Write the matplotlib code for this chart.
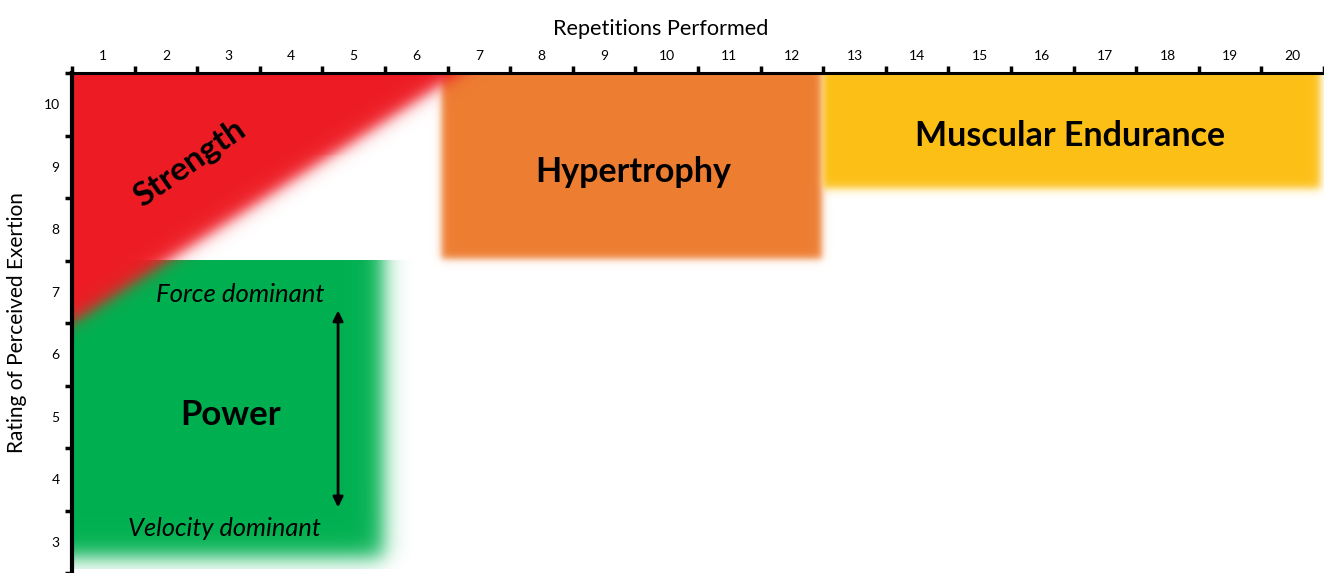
import numpy as np
import matplotlib
matplotlib.use("Agg")
import matplotlib.pyplot as plt

plt.rcParams['font.family'] = ['Lato', 'DejaVu Sans']

# axis data
reps = list(range(1, 21))
rpe = list(range(3, 11))
x_range = [0.5, 20.5]
y_range = [2.56, 10.5]

# zones (repetitions from-to, RPE from-to)
power_x = [0.5, 5.47]
power_y = [2.74, 7.5]
hyper_x = [6.4, 12.48]
hyper_y = [7.52, 10.6]
endur_x = [12.5, 20.45]
endur_y = [8.64, 10.6]
# strength triangle: diagonal from (0.5, 6.5) to (6.7, 10.5)
strength_diag = [(0.5, 6.5), (6.7, 10.5)]

zone_colors = {
    "Power": (0 / 255, 176 / 255, 80 / 255),
    "Hypertrophy": (237 / 255, 125 / 255, 49 / 255),
    "Muscular Endurance": (252 / 255, 191 / 255, 22 / 255),
    "Strength": (237 / 255, 28 / 255, 36 / 255),
}


def soft(d, s):
    # smooth step, 0 -> 1 as d goes - -> +
    if s <= 0:
        return (d > 0).astype(float)
    return 1.0 / (1.0 + np.exp(np.clip(-d / s, -50, 50)))


fig = plt.figure(figsize=(13.24, 5.73), dpi=100)
ax = fig.add_axes([72 / 1324, 0.0, 1 - 72 / 1324, 1 - 73 / 573])
ax.set_xlim(x_range)
ax.set_ylim(y_range)

nx, ny = 1252, 500
xs = np.linspace(x_range[0], x_range[1], nx)
ys = np.linspace(y_range[1], y_range[0], ny)
X, Y = np.meshgrid(xs, ys)

img = np.ones((ny, nx, 3))


def paint(alpha, color):
    global img
    alpha = np.where(alpha < 0.004, 0.0, alpha)
    a = alpha[..., None]
    img = img * (1 - a) + np.array(color) * a


# power: sharp top/left, soft right/bottom
a_power = soft(power_x[1] - X, 0.1) * soft(Y - power_y[0], 0.1) * soft(power_y[1] - Y, 0.0)
paint(a_power, zone_colors["Power"])

a_hyper = (soft(X - hyper_x[0], 0.035) * soft(hyper_x[1] - X, 0.035)
           * soft(Y - hyper_y[0], 0.035) * soft(hyper_y[1] - Y, 0.035))
paint(a_hyper, zone_colors["Hypertrophy"])

a_endur = (soft(X - endur_x[0], 0.03) * soft(endur_x[1] - X, 0.04)
           * soft(Y - endur_y[0], 0.04) * soft(endur_y[1] - Y, 0.04))
paint(a_endur, zone_colors["Muscular Endurance"])

(x0, y0), (x1, y1) = strength_diag
dx, dy = x1 - x0, y1 - y0
nrm = np.hypot(dx, dy)
dist = -((X - x0) * dy - (Y - y0) * dx) / nrm
a_str = soft(dist, 0.07)
paint(a_str, zone_colors["Strength"])

img = (np.clip(img, 0, 1) * 255).round().astype(np.uint8)
ax.imshow(img, extent=[x_range[0], x_range[1], y_range[0], y_range[1]],
          aspect='auto', interpolation='nearest', zorder=0)

# zone labels
ax.text(2.38, 9.06, "Strength", rotation=35, rotation_mode='anchor',
        ha='center', va='center', fontsize=24, fontweight='bold')
ax.text(9.46, 8.91, "Hypertrophy", ha='center', va='center', fontsize=24.5, fontweight='bold')
ax.text(16.44, 9.5, "Muscular Endurance", ha='center', va='center', fontsize=24.5, fontweight='bold')
ax.text(3.04, 5.03, "Power", ha='center', va='center', fontsize=25, fontweight='bold')
ax.text(3.18, 6.95, "Force dominant", ha='center', va='center', fontsize=18.5, fontstyle='italic')
ax.text(2.93, 3.21, "Velocity dominant", ha='center', va='center', fontsize=18.3, fontstyle='italic')
ax.annotate("", xy=(4.75, 6.7), xytext=(4.75, 3.55),
            arrowprops=dict(arrowstyle='<|-|>', color='black', lw=2, mutation_scale=15,
                            shrinkA=0, shrinkB=0))

# axes
ax.xaxis.tick_top()
ax.xaxis.set_label_position('top')
ax.set_xticks(np.arange(0.5, 21, 1))
ax.set_xticklabels([])
ax.set_xticks(reps, minor=True)
ax.set_xticklabels([str(r) for r in reps], minor=True)
ax.set_yticks(np.arange(2.5, 11, 1))
ax.set_yticklabels([])
ax.set_yticks(rpe, minor=True)
ax.set_yticklabels([str(r) for r in rpe], minor=True)
ax.tick_params(which='major', direction='out', length=5, width=2.5, color='black')
ax.tick_params(which='minor', length=0, labelsize=10, pad=9)
ax.tick_params(axis='x', which='minor', pad=8)
for s in ['right', 'bottom']:
    ax.spines[s].set_visible(False)
ax.spines['left'].set_linewidth(3)
ax.spines['top'].set_linewidth(2.2)
ax.set_xlabel("Repetitions Performed", fontsize=15.6, labelpad=11, x=0.47)
ax.set_ylabel("Rating of Perceived Exertion", fontsize=15, labelpad=12)

fig.savefig("out.png", dpi=100)
